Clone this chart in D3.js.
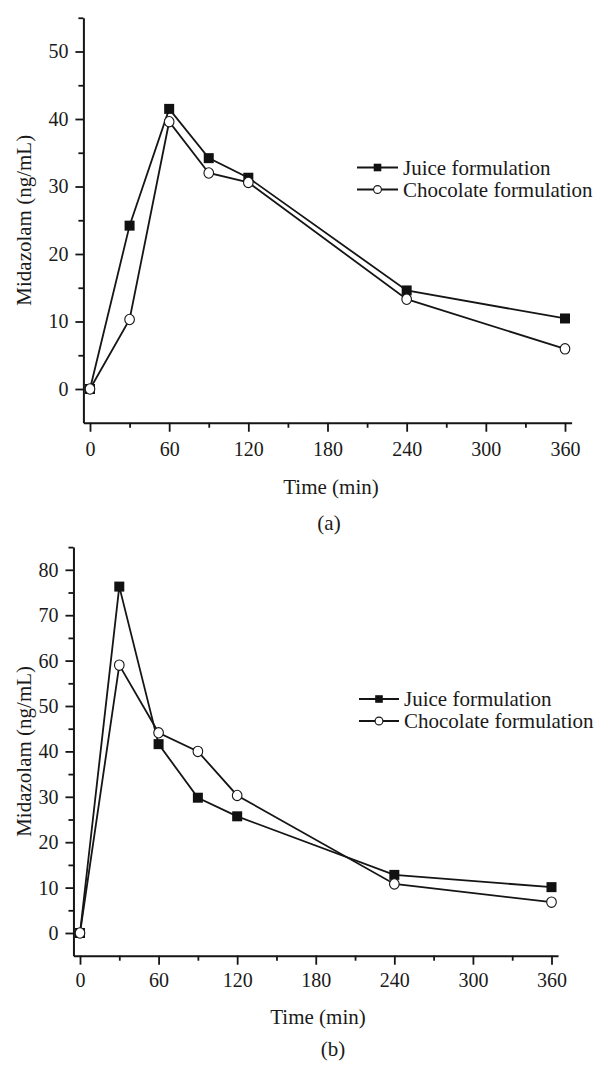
<!DOCTYPE html>
<html>
<head>
<meta charset="utf-8">
<script src="https://cdn.jsdelivr.net/npm/d3@7"></script>
<style>
  html, body { margin: 0; padding: 0; background: #ffffff; }
  svg { display: block; }
  text { font-family: "Liberation Serif", "Times New Roman", serif; fill: #1a1a1a; }
</style>
</head>
<body>
<svg id="chart" width="598" height="1066"></svg>
<script>
// ---- data ----
const times = [0, 30, 60, 90, 120, 240, 360];
const juiceA = [0, 24.2, 41.5, 34.2, 31.3, 14.6, 10.45];
const chocolateA = [0, 10.3, 39.6, 32.0, 30.6, 13.3, 5.95];
const juiceB = [0, 76.3, 41.6, 29.8, 25.7, 12.8, 10.1];
const chocolateB = [0, 59.0, 44.1, 40.0, 30.3, 10.8, 6.8];
const seriesNames = ["Juice formulation", "Chocolate formulation"];
const xTicks = [0, 60, 120, 180, 240, 300, 360];
const xMinorTicks = [30, 90, 150, 210, 270, 330];
const yTicksA = [0, 10, 20, 30, 40, 50];
const yMinorTicksA = [5, 15, 25, 35, 45, 55];
const yTicksB = [0, 10, 20, 30, 40, 50, 60, 70, 80];
const yMinorTicksB = [5, 15, 25, 35, 45, 55, 65, 75, 85];
const xTitle = "Time (min)";
const yTitle = "Midazolam (ng/mL)";
const panelLabels = ["(a)", "(b)"];

const svg = d3.select("#chart");
const ink = "#151515";

function drawPanel(cfg) {
  const g = svg.append("g");
  const x = d3.scaleLinear().domain([-5, 365]).range([cfg.x0 - 5 * cfg.k, cfg.x0 + 365 * cfg.k]);
  const y = d3.scaleLinear().domain(cfg.yDomain).range(cfg.yRange);

  // minor ticks
  g.append("g").attr("transform", `translate(0,${y(cfg.yDomain[0])})`)
    .call(d3.axisBottom(x).tickValues(xMinorTicks).tickSize(5).tickFormat(""))
    .call(a => a.select(".domain").remove());
  g.append("g").attr("transform", `translate(${x(-5)},0)`)
    .call(d3.axisLeft(y).tickValues(cfg.yMinor).tickSize(5).tickFormat(""))
    .call(a => a.select(".domain").remove());

  // major axes
  const xa = g.append("g").attr("transform", `translate(0,${y(cfg.yDomain[0])})`)
    .call(d3.axisBottom(x).tickValues(xTicks).tickSize(9).tickPadding(cfg.xPad).tickSizeOuter(0));
  const ya = g.append("g").attr("transform", `translate(${x(-5)},0)`)
    .call(d3.axisLeft(y).tickValues(cfg.yTicks).tickSize(8).tickPadding(7).tickSizeOuter(0));
  [xa, ya].forEach(a => {
    a.selectAll("text").style("font-size", "20px").style("font-family", '"Liberation Serif", serif').attr("fill", ink);
    a.select(".domain").attr("stroke", ink).attr("stroke-width", 2);
  });
  g.selectAll("g.tick line").attr("stroke", ink).attr("stroke-width", 1.8);

  // series
  const series = [
    { name: seriesNames[0], vals: cfg.juice, sym: "square" },
    { name: seriesNames[1], vals: cfg.choc, sym: "circle" }
  ];
  const line = d3.line().x(d => x(d[0])).y(d => y(d[1]));
  series.forEach(s => {
    const pts = times.map((t, i) => [t, s.vals[i]]);
    g.append("path").attr("d", line(pts)).attr("fill", "none")
      .attr("stroke", ink).attr("stroke-width", 1.8);
  });
  series.forEach(s => {
    const pts = times.map((t, i) => [t, s.vals[i]]);
    if (s.sym === "square") {
      g.selectAll(null).data(pts).enter().append("rect")
        .attr("x", d => x(d[0]) - 5).attr("y", d => y(d[1]) - 5)
        .attr("width", 10).attr("height", 10).attr("fill", "#111");
    } else {
      g.selectAll(null).data(pts).enter().append("ellipse")
        .attr("cx", d => x(d[0])).attr("cy", d => y(d[1])).attr("rx", 4.8).attr("ry", 5.2)
        .attr("fill", "#fff").attr("stroke", ink).attr("stroke-width", 1.1);
    }
  });

  // legend
  series.forEach((s, i) => {
    const ly = cfg.legY[i];
    g.append("line").attr("x1", cfg.legX[0]).attr("x2", cfg.legX[1])
      .attr("y1", ly).attr("y2", ly).attr("stroke", ink).attr("stroke-width", 1.8);
    const mx = (cfg.legX[0] + cfg.legX[1]) / 2;
    if (s.sym === "square") {
      g.append("rect").attr("x", mx - 3.8).attr("y", ly - 3.8).attr("width", 7.6).attr("height", 7.6).attr("fill", "#111");
    } else {
      g.append("circle").attr("cx", mx).attr("cy", ly).attr("r", 3.9)
        .attr("fill", "#fff").attr("stroke", ink).attr("stroke-width", 1.1);
    }
    g.append("text").attr("x", cfg.legX[1] + 5).attr("y", ly + 7)
      .style("font-size", "21px").text(s.name);
  });

  // titles
  g.append("text").attr("text-anchor", "middle")
    .attr("transform", `translate(31,${(cfg.yRange[0] + cfg.yRange[1]) / 2}) rotate(-90)`)
    .style("font-size", "21px").text(yTitle);
  g.append("text").attr("text-anchor", "middle").attr("x", cfg.xTitlePos[0]).attr("y", cfg.xTitlePos[1])
    .style("font-size", "21px").text(xTitle);
  g.append("text").attr("text-anchor", "middle").attr("x", cfg.labelPos[0]).attr("y", cfg.labelPos[1])
    .style("font-size", "21px").text(cfg.label);
}

drawPanel({
  x0: 90, k: 475 / 360, yDomain: [-5, 55], yRange: [422.75, 17.75],
  yTicks: yTicksA, yMinor: yMinorTicksA, juice: juiceA, choc: chocolateA,
  xPad: 10, legX: [357, 398], legY: [167.5, 189.5],
  xTitlePos: [331, 494], labelPos: [329, 530], label: panelLabels[0]
});
drawPanel({
  x0: 80, k: 471.5 / 360, yDomain: [-5, 85], yRange: [955.7, 547.1],
  yTicks: yTicksB, yMinor: yMinorTicksB, juice: juiceB, choc: chocolateB,
  xPad: 8, legX: [359, 399], legY: [699, 721],
  xTitlePos: [318, 1024], labelPos: [333, 1056], label: panelLabels[1]
});
</script>
</body>
</html>
